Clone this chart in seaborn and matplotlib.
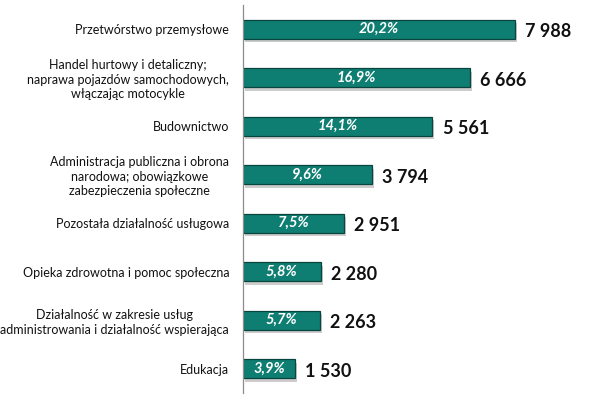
import numpy as np
import pandas as pd
import matplotlib
matplotlib.use("Agg")
import matplotlib.pyplot as plt
import matplotlib.patheffects as pe
import seaborn as sns

# Dane
kategorie = [
    'Przetwórstwo przemysłowe',
    'Handel hurtowy i detaliczny;\nnaprawa pojazdów samochodowych,\nwłączając motocykle',
    'Budownictwo',
    'Administracja publiczna i obrona\nnarodowa; obowiązkowe\nzabezpieczenia społeczne',
    'Pozostała działalność usługowa',
    'Opieka zdrowotna i pomoc społeczna',
    'Działalność w zakresie usług\nadministrowania i działalność wspierająca',
    'Edukacja',
]
wartosci = [7988, 6666, 5561, 3794, 2951, 2280, 2263, 1530]
udzialy = ['20,2%', '16,9%', '14,1%', '9,6%', '7,5%', '5,8%', '5,7%', '3,9%']
etykiety = ['7 988', '6 666', '5 561', '3 794', '2 951', '2 280', '2 263', '1 530']

df = pd.DataFrame({'kat': kategorie, 'val': wartosci})

sns.set_style('white')
plt.rcParams['font.family'] = ['Lato', 'DejaVu Sans']

fig = plt.figure(figsize=(6.02, 3.96), dpi=100)
ax = fig.add_axes([0.4037, 0.0076, 0.5963, 0.9798])

# saturation=1, bo seaborn domyślnie przygasza kolor
sns.barplot(data=df, x='val', y='kat', orient='h', color='#0f7e72', saturation=1,
            width=0.39, edgecolor='#08453e', linewidth=0.9, ax=ax)

for p in ax.patches:
    p.set_path_effects([pe.SimplePatchShadow(offset=(1.5, -2.5), shadow_rgbFace='#9a9a9a', alpha=0.5),
                        pe.Normal()])

ax.set_xlim(0, 10543)
ax.set_ylim(len(kategorie) - 0.5, -0.5)
ax.set_xlabel('')
ax.set_ylabel('')
ax.set_xticks([])

for s in ['top', 'right', 'bottom']:
    ax.spines[s].set_visible(False)
ax.spines['left'].set_color('#8c8c8c')
ax.spines['left'].set_linewidth(0.9)

ax.tick_params(axis='y', which='major', length=0, pad=10, labelsize=9, labelcolor='#111111')
ax.set_yticks(np.arange(len(kategorie) + 1) - 0.5, minor=True)
ax.tick_params(axis='y', which='minor', length=5, width=0.9, color='#8c8c8c', direction='out')
for t in ax.get_yticklabels():
    t.set_horizontalalignment('right')
    t.set_multialignment('center')
    t.set_linespacing(1.25)

for i, v in enumerate(wartosci):
    ax.text(v / 2, i, udzialy[i], ha='center', va='center', color='white',
            fontsize=10.5, fontweight='bold', fontstyle='italic')
    ax.text(v + 300, i + 0.05, etykiety[i], ha='left', va='center', color='#111111',
            fontsize=13, fontweight='bold')

plt.savefig('out.png', dpi=100)
